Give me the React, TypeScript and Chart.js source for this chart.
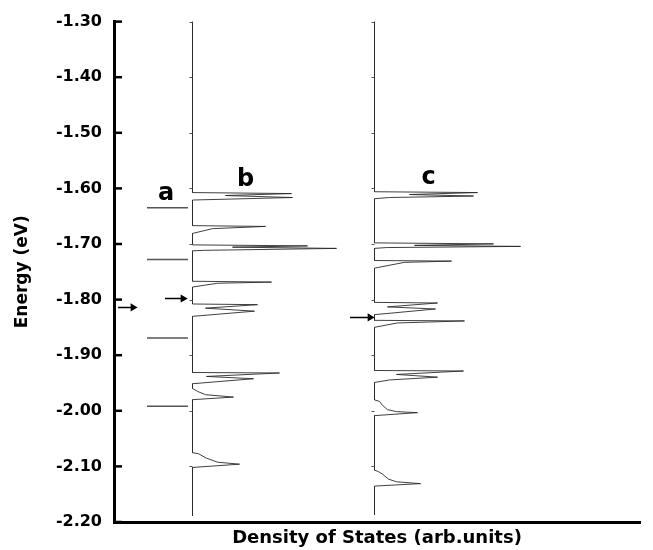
import React, { useEffect, useRef } from 'react';
import { Chart, registerables } from 'chart.js';

Chart.register(...registerables);

// Energy axis ticks (eV)
const yTicks = [-1.3, -1.4, -1.5, -1.6, -1.7, -1.8, -1.9, -2.0, -2.1, -2.2];
// small ticks on the panel baselines
const panelTicks = [-1.3, -1.4, -1.5, -1.6, -1.7, -1.8, -1.9, -2.0, -2.1];

// Panel a: discrete levels (eV)
const levelsA = [-1.635, -1.728, -1.869, -1.992];
const levelsAFrom = 33;
const levelsATo = 74;

// Panel b: density of states curve (energy, DOS)
const baseB = 78.5;
const bEnergy = [
  -1.3,
  -1.6075, -1.6093, -1.6128, -1.6164, -1.6209,
  -1.667, -1.6684, -1.6724, -1.681,
  -1.7016, -1.7034, -1.7057, -1.7079, -1.7114, -1.7123,
  -1.767, -1.7685, -1.7706, -1.7774,
  -1.8079, -1.8091, -1.8154, -1.8208, -1.8301,
  -1.9311, -1.932, -1.9382, -1.9423, -1.9513,
  -1.9597, -1.9651, -1.971, -1.9753, -1.98,
  -2.0754, -2.0772, -2.0852, -2.0924, -2.096, -2.1019,
  -2.189,
];
const bDos = [
  0,
  0, 99, 33, 100, 0,
  0, 73, 20, 0,
  0, 115, 40, 144, 12, 0,
  0, 79, 25, 0,
  0, 65, 13, 62, 0,
  0, 87, 14, 61, 0,
  0, 5, 13, 41, 0,
  0, 6, 14, 25, 47, 0,
  0,
];

// Panel c: density of states curve (energy, DOS)
const baseC = 260.5;
const cEnergy = [
  -1.3,
  -1.606, -1.6075, -1.611, -1.6137, -1.6164, -1.6186,
  -1.698, -1.6998, -1.7025, -1.7043, -1.7064, -1.7079,
  -1.7297, -1.7308, -1.733, -1.7434,
  -1.805, -1.8061, -1.8131, -1.8169, -1.8271,
  -1.8373, -1.8384, -1.842, -1.8498,
  -1.9275, -1.9284, -1.9346, -1.9395, -1.9445, -1.949,
  -1.9804, -1.983, -1.9902, -1.9979, -2.0015, -2.0033, -2.0087,
  -2.1067, -2.1094, -2.1139, -2.1229, -2.1277, -2.131, -2.1354,
  -2.187,
];
const cDos = [
  0,
  0, 103, 35, 99, 15, 0,
  0, 119, 40, 146, 12, 0,
  0, 77, 30, 0,
  0, 63, 13, 61, 0,
  0, 90, 23, 0,
  0, 89, 22, 63, 15, 0,
  0, 5, 8, 13, 22, 43, 0,
  0, 4, 8, 14, 22, 46, 0,
  0,
];

// Arrows (energy, from, to)
const arrowE = [-1.814, -1.798, -1.832];
const arrowFrom = [4, 51, 236];
const arrowTo = [19, 69, 256];

// Panel labels
const panelLabels = ['a', 'b', 'c'];
const labelX = [52, 131.5, 314.5];
const labelE = [-1.620, -1.596, -1.592];

const FONT = '"DejaVu Sans", "Liberation Sans", sans-serif';

const overlay = {
  id: 'overlay',
  afterDraw(chart: any) {
    const { ctx, chartArea, scales } = chart;
    const x = scales.x;
    const y = scales.y;
    ctx.save();
    ctx.strokeStyle = '#000';
    ctx.lineWidth = 2.5;
    yTicks.forEach((v) => {
      const py = y.getPixelForValue(v);
      ctx.beginPath();
      ctx.moveTo(chartArea.left, py);
      ctx.lineTo(chartArea.left + 8, py);
      ctx.stroke();
    });
    ctx.lineWidth = 1;
    ctx.strokeStyle = '#555';
    [baseB, baseC].forEach((b) => {
      const px = x.getPixelForValue(b);
      panelTicks.forEach((v) => {
        const py = Math.round(y.getPixelForValue(v)) + 0.5;
        ctx.beginPath();
        ctx.moveTo(px - 3, py);
        ctx.lineTo(px, py);
        ctx.stroke();
      });
    });
    ctx.fillStyle = '#000';
    ctx.font = `bold 24px ${FONT}`;
    ctx.textAlign = 'center';
    ctx.textBaseline = 'alphabetic';
    panelLabels.forEach((t, i) => {
      ctx.fillText(t, x.getPixelForValue(labelX[i]), y.getPixelForValue(labelE[i]));
    });
    ctx.restore();
  },
};

export default function App() {
  const ref = useRef<HTMLCanvasElement | null>(null);

  useEffect(() => {
    if (!ref.current) return;
    const datasets: any[] = [];
    datasets.push({
      data: bEnergy.map((e, i) => ({ x: baseB + bDos[i], y: e })),
      borderColor: '#2a2a2a',
      borderWidth: 0.9,
      pointRadius: 0,
      showLine: true,
      tension: 0,
    });
    datasets.push({
      data: cEnergy.map((e, i) => ({ x: baseC + cDos[i], y: e })),
      borderColor: '#2a2a2a',
      borderWidth: 0.9,
      pointRadius: 0,
      showLine: true,
      tension: 0,
    });
    levelsA.forEach((e) => {
      datasets.push({
        data: [
          { x: levelsAFrom, y: e },
          { x: levelsATo, y: e },
        ],
        borderColor: '#555',
        borderWidth: 1.5,
        pointRadius: 0,
        showLine: true,
      });
    });
    arrowE.forEach((e, i) => {
      datasets.push({
        data: [
          { x: arrowFrom[i], y: e },
          { x: arrowTo[i], y: e },
        ],
        borderColor: '#000',
        backgroundColor: '#000',
        borderWidth: 1.5,
        pointRadius: [0, 3.2],
        pointStyle: 'triangle',
        rotation: 90,
        showLine: true,
      });
    });

    const chart = new Chart(ref.current, {
      type: 'scatter',
      data: { datasets },
      options: {
        animation: false,
        responsive: false,
        layout: { padding: { top: 20, right: 13, left: 0, bottom: 0 } },
        plugins: { legend: { display: false }, tooltip: { enabled: false } },
        scales: {
          x: {
            type: 'linear',
            min: 0,
            max: 526,
            ticks: { display: false },
            grid: { display: true, drawOnChartArea: false, drawTicks: false },
            border: { display: true, width: 3, color: '#000' },
            title: {
              display: true,
              text: 'Density of States (arb.units)',
              color: '#000',
              font: { family: FONT, size: 18, weight: 'bold' },
              padding: { top: 0, bottom: 1 },
            },
            afterFit: (s: any) => {
              s.height = 28;
            },
          },
          y: {
            type: 'linear',
            min: -2.2,
            max: -1.3,
            afterBuildTicks: (s: any) => {
              s.ticks = yTicks.map((v) => ({ value: v }));
            },
            ticks: {
              color: '#000',
              padding: 12,
              font: { family: FONT, size: 16, weight: 'bold' },
              callback: (v: any) => Number(v).toFixed(2),
            },
            grid: { display: true, drawOnChartArea: false, drawTicks: false },
            border: { display: true, width: 3, color: '#000' },
            title: {
              display: true,
              text: 'Energy (eV)',
              color: '#000',
              font: { family: FONT, size: 17, weight: 'bold' },
              padding: { top: 12, bottom: 0 },
            },
            afterFit: (s: any) => {
              s.width = 114;
            },
          },
        },
      },
      plugins: [overlay],
    });
    return () => chart.destroy();
  }, []);

  return (
    <div style={{ position: 'fixed', left: 0, top: 0, width: 653, height: 550, background: '#fff' }}>
      <canvas ref={ref} width={653} height={550} />
    </div>
  );
}
